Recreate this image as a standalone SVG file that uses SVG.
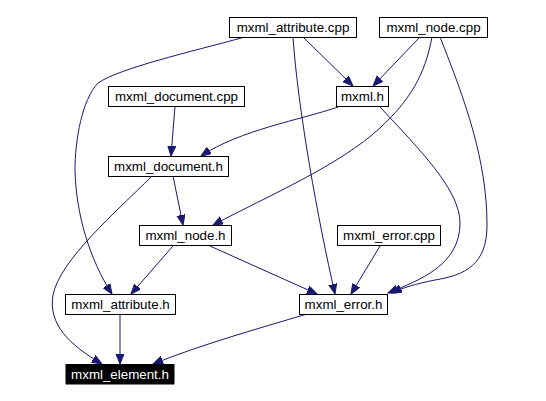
<svg xmlns="http://www.w3.org/2000/svg" width="546" height="401" viewBox="0 0 546 401">
<style>
.node rect{fill:#ffffff;stroke:#000000;stroke-width:1}
.node text{font-family:"Liberation Sans",Arial,sans-serif;font-size:13.33px;fill:#000000;text-anchor:middle}
#n_elem_h rect{fill:#000000}
#n_elem_h text{fill:#ffffff}
.edges path{fill:none;stroke:#191970;stroke-width:1;marker-end:url(#arr)}
</style>
<defs>
<marker id="arr" markerUnits="userSpaceOnUse" markerWidth="11" markerHeight="9" refX="10" refY="4" orient="auto" viewBox="0 0 11 9">
<path d="M0,0 L10,4 L0,8 z" fill="#191970" stroke="#191970"/>
</marker>
</defs>
<rect width="546" height="401" fill="#ffffff"/>
<g class="edges">
<path d="M303,37 L353,86"/>
<path d="M420,37 L373,86"/>
<path d="M245,37 C190,52 120,68 98,83 C82,100 75,140 75,170 C76,215 90,260 112,294"/>
<path d="M293,37 C298,110 318,220 335,294"/>
<path d="M432,37 C425,75 410,100 380,128 C340,165 270,195 213,225"/>
<path d="M440,37 C465,100 487,160 487,225 C487,265 465,275 435,280 C415,284 402,288 392,293"/>
<path d="M338,107 C300,120 240,130 201,156"/>
<path d="M380,107 C420,150 460,190 460,223 C460,265 420,280 388,293"/>
<path d="M175,106 L171,156"/>
<path d="M173,176 L183,225"/>
<path d="M152,176 C115,213 60,260 53,295 C48,325 70,345 102,364"/>
<path d="M173,246 L131,294"/>
<path d="M210,246 L317,294"/>
<path d="M380,246 L351,294"/>
<path d="M120,314 L120,364"/>
<path d="M307,314 C260,328 200,345 153,364"/>
</g>
<g id="n_attr_cpp" class="node"><rect x="229.5" y="17.5" width="127" height="20"/><text x="293" y="32">mxml_attribute.cpp</text></g>
<g id="n_node_cpp" class="node"><rect x="379.5" y="17.5" width="108" height="20"/><text x="433.5" y="32">mxml_node.cpp</text></g>
<g id="n_mxml_h" class="node"><rect x="336.5" y="86.5" width="52" height="20"/><text x="362.5" y="101">mxml.h</text></g>
<g id="n_doc_cpp" class="node"><rect x="108.5" y="86.5" width="136" height="20"/><text x="176.5" y="101">mxml_document.cpp</text></g>
<g id="n_doc_h" class="node"><rect x="108.5" y="156.5" width="120" height="20"/><text x="168.5" y="171">mxml_document.h</text></g>
<g id="n_node_h" class="node"><rect x="139.5" y="225.5" width="92" height="20"/><text x="185.5" y="240">mxml_node.h</text></g>
<g id="n_err_cpp" class="node"><rect x="337.5" y="225.5" width="103" height="20"/><text x="389" y="240">mxml_error.cpp</text></g>
<g id="n_attr_h" class="node"><rect x="65.5" y="294.5" width="110" height="20"/><text x="120.5" y="309">mxml_attribute.h</text></g>
<g id="n_err_h" class="node"><rect x="299.5" y="294.5" width="88" height="20"/><text x="343.5" y="309">mxml_error.h</text></g>
<g id="n_elem_h" class="node"><rect x="66" y="364.5" width="108" height="19.5"/><text x="120" y="379">mxml_element.h</text></g>
</svg>
